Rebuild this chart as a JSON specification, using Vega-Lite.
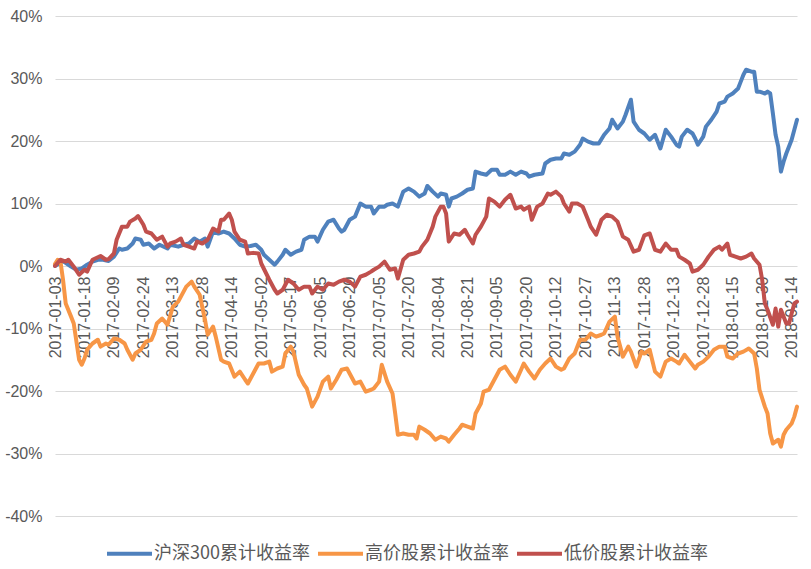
{
  "$schema": "https://vega.github.io/schema/vega-lite/v6.json",
  "width": 742,
  "height": 500,
  "autosize": {"type": "none"},
  "padding": {"left": 55, "top": 16, "right": 14, "bottom": 53},
  "background": "white",
  "config": {"view": {"stroke": null}, "font": "Liberation Sans"},
  "datasets": {
    "hs300": [
      {"date":"2017-01-03","v":0},{"date":"2017-01-06","v":0.8},{"date":"2017-01-11","v":-0.1},{"date":"2017-01-13","v":-0.6},{"date":"2017-01-17","v":-0.4},{"date":"2017-01-19","v":0.2},{"date":"2017-01-23","v":0.7},{"date":"2017-01-25","v":1.0},{"date":"2017-02-03","v":1.0},{"date":"2017-02-07","v":0.8},{"date":"2017-02-09","v":1.5},{"date":"2017-02-13","v":2.8},{"date":"2017-02-14","v":2.6},{"date":"2017-02-16","v":2.8},{"date":"2017-02-20","v":3.6},{"date":"2017-02-21","v":4.4},{"date":"2017-02-23","v":4.2},{"date":"2017-02-24","v":3.4},{"date":"2017-02-28","v":3.6},{"date":"2017-03-02","v":2.8},{"date":"2017-03-06","v":3.4},{"date":"2017-03-09","v":2.8},{"date":"2017-03-10","v":3.4},{"date":"2017-03-15","v":3.1},{"date":"2017-03-17","v":3.4},{"date":"2017-03-21","v":3.6},{"date":"2017-03-23","v":4.4},{"date":"2017-03-27","v":3.9},{"date":"2017-03-29","v":4.4},{"date":"2017-03-30","v":3.1},{"date":"2017-04-05","v":5.5},{"date":"2017-04-07","v":5.2},{"date":"2017-04-11","v":5.5},{"date":"2017-04-13","v":5.2},{"date":"2017-04-17","v":4.4},{"date":"2017-04-19","v":3.4},{"date":"2017-04-21","v":3.1},{"date":"2017-04-25","v":3.2},{"date":"2017-04-27","v":3.4},{"date":"2017-05-02","v":2.6},{"date":"2017-05-03","v":1.8},{"date":"2017-05-05","v":1.0},{"date":"2017-05-09","v":0.2},{"date":"2017-05-10","v":0.7},{"date":"2017-05-12","v":1.8},{"date":"2017-05-15","v":2.6},{"date":"2017-05-17","v":1.8},{"date":"2017-05-19","v":2.3},{"date":"2017-05-23","v":2.6},{"date":"2017-05-24","v":4.2},{"date":"2017-05-26","v":4.7},{"date":"2017-06-01","v":4.7},{"date":"2017-06-02","v":3.9},{"date":"2017-06-06","v":5.8},{"date":"2017-06-08","v":7.1},{"date":"2017-06-12","v":7.4},{"date":"2017-06-14","v":6.0},{"date":"2017-06-15","v":5.5},{"date":"2017-06-16","v":5.8},{"date":"2017-06-20","v":7.4},{"date":"2017-06-22","v":7.9},{"date":"2017-06-26","v":10.0},{"date":"2017-06-28","v":9.5},{"date":"2017-06-30","v":9.5},{"date":"2017-07-03","v":8.4},{"date":"2017-07-05","v":9.5},{"date":"2017-07-07","v":9.5},{"date":"2017-07-10","v":9.8},{"date":"2017-07-12","v":10.0},{"date":"2017-07-14","v":9.5},{"date":"2017-07-18","v":11.9},{"date":"2017-07-20","v":12.4},{"date":"2017-07-24","v":11.9},{"date":"2017-07-26","v":11.1},{"date":"2017-07-28","v":11.6},{"date":"2017-07-31","v":12.8},{"date":"2017-08-02","v":11.9},{"date":"2017-08-04","v":11.1},{"date":"2017-08-07","v":11.6},{"date":"2017-08-09","v":11.4},{"date":"2017-08-10","v":9.5},{"date":"2017-08-11","v":10.8},{"date":"2017-08-15","v":11.1},{"date":"2017-08-17","v":11.6},{"date":"2017-08-21","v":12.2},{"date":"2017-08-23","v":12.4},{"date":"2017-08-24","v":15.1},{"date":"2017-08-28","v":14.8},{"date":"2017-08-30","v":14.6},{"date":"2017-09-01","v":15.4},{"date":"2017-09-05","v":15.4},{"date":"2017-09-06","v":14.6},{"date":"2017-09-08","v":14.6},{"date":"2017-09-12","v":15.1},{"date":"2017-09-14","v":14.6},{"date":"2017-09-18","v":15.1},{"date":"2017-09-20","v":14.8},{"date":"2017-09-21","v":14.3},{"date":"2017-09-25","v":14.6},{"date":"2017-09-28","v":14.8},{"date":"2017-09-29","v":16.4},{"date":"2017-10-10","v":17.0},{"date":"2017-10-12","v":17.2},{"date":"2017-10-16","v":17.2},{"date":"2017-10-17","v":18.0},{"date":"2017-10-19","v":17.8},{"date":"2017-10-23","v":18.3},{"date":"2017-10-25","v":19.4},{"date":"2017-10-26","v":20.4},{"date":"2017-10-30","v":19.9},{"date":"2017-11-01","v":19.6},{"date":"2017-11-03","v":19.6},{"date":"2017-11-07","v":21.0},{"date":"2017-11-09","v":22.0},{"date":"2017-11-10","v":23.4},{"date":"2017-11-14","v":22.0},{"date":"2017-11-16","v":23.1},{"date":"2017-11-17","v":24.2},{"date":"2017-11-21","v":26.6},{"date":"2017-11-22","v":23.1},{"date":"2017-11-24","v":21.8},{"date":"2017-11-28","v":21.2},{"date":"2017-11-30","v":20.2},{"date":"2017-12-04","v":21.0},{"date":"2017-12-06","v":18.8},{"date":"2017-12-08","v":21.8},{"date":"2017-12-12","v":20.7},{"date":"2017-12-14","v":19.4},{"date":"2017-12-15","v":19.1},{"date":"2017-12-18","v":20.7},{"date":"2017-12-20","v":21.8},{"date":"2017-12-22","v":21.2},{"date":"2017-12-25","v":20.4},{"date":"2017-12-26","v":19.4},{"date":"2017-12-28","v":20.7},{"date":"2017-12-29","v":22.3},{"date":"2018-01-03","v":23.4},{"date":"2018-01-05","v":24.7},{"date":"2018-01-08","v":26.0},{"date":"2018-01-10","v":26.3},{"date":"2018-01-11","v":27.1},{"date":"2018-01-15","v":27.6},{"date":"2018-01-17","v":28.4},{"date":"2018-01-18","v":29.5},{"date":"2018-01-19","v":30.6},{"date":"2018-01-22","v":31.4},{"date":"2018-01-24","v":31.1},{"date":"2018-01-25","v":31.1},{"date":"2018-01-26","v":27.9},{"date":"2018-01-29","v":27.9},{"date":"2018-01-31","v":27.6},{"date":"2018-02-01","v":27.9},{"date":"2018-02-02","v":27.6},{"date":"2018-02-05","v":24.4},{"date":"2018-02-06","v":21.0},{"date":"2018-02-07","v":19.1},{"date":"2018-02-08","v":15.1},{"date":"2018-02-09","v":16.7},{"date":"2018-02-12","v":18.0},{"date":"2018-02-14","v":20.2},{"date":"2018-02-22","v":21.8},{"date":"2018-02-23","v":23.4}
    ],
    "high": [
      {"date":"2017-01-03","v":0.3},{"date":"2017-01-04","v":1.0},{"date":"2017-01-05","v":0.8},{"date":"2017-01-06","v":-2.2},{"date":"2017-01-09","v":-6.0},{"date":"2017-01-11","v":-8.1},{"date":"2017-01-12","v":-9.2},{"date":"2017-01-16","v":-15.0},{"date":"2017-01-17","v":-15.8},{"date":"2017-01-18","v":-14.8},{"date":"2017-01-19","v":-13.4},{"date":"2017-01-23","v":-12.4},{"date":"2017-01-25","v":-11.8},{"date":"2017-01-26","v":-12.9},{"date":"2017-02-06","v":-12.4},{"date":"2017-02-07","v":-12.6},{"date":"2017-02-09","v":-11.6},{"date":"2017-02-13","v":-11.8},{"date":"2017-02-15","v":-12.4},{"date":"2017-02-16","v":-13.4},{"date":"2017-02-20","v":-15.0},{"date":"2017-02-21","v":-14.0},{"date":"2017-02-23","v":-13.4},{"date":"2017-02-27","v":-12.1},{"date":"2017-03-01","v":-11.8},{"date":"2017-03-02","v":-10.8},{"date":"2017-03-03","v":-9.2},{"date":"2017-03-07","v":-8.4},{"date":"2017-03-09","v":-9.4},{"date":"2017-03-13","v":-6.5},{"date":"2017-03-15","v":-5.7},{"date":"2017-03-20","v":-3.3},{"date":"2017-03-22","v":-2.5},{"date":"2017-03-23","v":-3.3},{"date":"2017-03-27","v":-4.6},{"date":"2017-03-29","v":-8.6},{"date":"2017-03-30","v":-11.0},{"date":"2017-04-05","v":-9.7},{"date":"2017-04-06","v":-11.3},{"date":"2017-04-10","v":-15.0},{"date":"2017-04-11","v":-15.3},{"date":"2017-04-13","v":-15.6},{"date":"2017-04-17","v":-17.7},{"date":"2017-04-19","v":-16.9},{"date":"2017-04-21","v":-18.2},{"date":"2017-04-24","v":-18.8},{"date":"2017-04-26","v":-17.2},{"date":"2017-04-28","v":-15.6},{"date":"2017-05-03","v":-15.6},{"date":"2017-05-05","v":-15.3},{"date":"2017-05-08","v":-16.9},{"date":"2017-05-10","v":-16.4},{"date":"2017-05-12","v":-16.1},{"date":"2017-05-15","v":-14.0},{"date":"2017-05-17","v":-12.9},{"date":"2017-05-18","v":-13.7},{"date":"2017-05-22","v":-17.4},{"date":"2017-05-24","v":-19.0},{"date":"2017-05-25","v":-19.6},{"date":"2017-05-31","v":-22.5},{"date":"2017-06-02","v":-20.9},{"date":"2017-06-06","v":-18.5},{"date":"2017-06-08","v":-17.7},{"date":"2017-06-09","v":-19.6},{"date":"2017-06-13","v":-18.2},{"date":"2017-06-15","v":-16.6},{"date":"2017-06-19","v":-16.4},{"date":"2017-06-20","v":-17.2},{"date":"2017-06-22","v":-18.8},{"date":"2017-06-26","v":-18.5},{"date":"2017-06-28","v":-20.1},{"date":"2017-06-30","v":-19.8},{"date":"2017-07-03","v":-19.6},{"date":"2017-07-05","v":-18.5},{"date":"2017-07-06","v":-15.8},{"date":"2017-07-10","v":-18.5},{"date":"2017-07-12","v":-20.4},{"date":"2017-07-13","v":-23.6},{"date":"2017-07-14","v":-27.0},{"date":"2017-07-18","v":-26.8},{"date":"2017-07-20","v":-27.0},{"date":"2017-07-24","v":-27.0},{"date":"2017-07-25","v":-27.6},{"date":"2017-07-26","v":-25.7},{"date":"2017-07-28","v":-26.2},{"date":"2017-08-01","v":-26.8},{"date":"2017-08-03","v":-27.8},{"date":"2017-08-07","v":-27.3},{"date":"2017-08-09","v":-27.6},{"date":"2017-08-10","v":-28.1},{"date":"2017-08-14","v":-27.0},{"date":"2017-08-16","v":-26.0},{"date":"2017-08-17","v":-25.4},{"date":"2017-08-21","v":-25.7},{"date":"2017-08-23","v":-26.0},{"date":"2017-08-24","v":-23.6},{"date":"2017-08-28","v":-22.0},{"date":"2017-08-29","v":-20.1},{"date":"2017-08-31","v":-19.8},{"date":"2017-09-04","v":-18.2},{"date":"2017-09-06","v":-16.6},{"date":"2017-09-08","v":-16.1},{"date":"2017-09-12","v":-17.4},{"date":"2017-09-14","v":-18.5},{"date":"2017-09-18","v":-16.6},{"date":"2017-09-19","v":-15.6},{"date":"2017-09-21","v":-16.9},{"date":"2017-09-25","v":-18.0},{"date":"2017-09-27","v":-16.6},{"date":"2017-09-29","v":-15.6},{"date":"2017-10-10","v":-14.8},{"date":"2017-10-12","v":-16.1},{"date":"2017-10-16","v":-16.6},{"date":"2017-10-17","v":-16.4},{"date":"2017-10-19","v":-14.8},{"date":"2017-10-23","v":-14.0},{"date":"2017-10-25","v":-11.8},{"date":"2017-10-27","v":-11.8},{"date":"2017-10-31","v":-10.8},{"date":"2017-11-02","v":-11.3},{"date":"2017-11-06","v":-11.0},{"date":"2017-11-07","v":-10.8},{"date":"2017-11-09","v":-8.9},{"date":"2017-11-13","v":-8.1},{"date":"2017-11-14","v":-11.3},{"date":"2017-11-16","v":-14.5},{"date":"2017-11-20","v":-12.9},{"date":"2017-11-21","v":-13.7},{"date":"2017-11-23","v":-16.1},{"date":"2017-11-27","v":-13.7},{"date":"2017-11-28","v":-14.0},{"date":"2017-11-30","v":-13.4},{"date":"2017-12-04","v":-16.9},{"date":"2017-12-06","v":-17.7},{"date":"2017-12-08","v":-15.3},{"date":"2017-12-12","v":-14.8},{"date":"2017-12-14","v":-15.3},{"date":"2017-12-15","v":-15.6},{"date":"2017-12-19","v":-14.2},{"date":"2017-12-21","v":-15.3},{"date":"2017-12-25","v":-16.4},{"date":"2017-12-26","v":-15.8},{"date":"2017-12-28","v":-15.3},{"date":"2018-01-02","v":-14.5},{"date":"2018-01-04","v":-13.4},{"date":"2018-01-08","v":-12.9},{"date":"2018-01-10","v":-12.9},{"date":"2018-01-11","v":-14.5},{"date":"2018-01-15","v":-14.8},{"date":"2018-01-17","v":-14.0},{"date":"2018-01-19","v":-13.7},{"date":"2018-01-23","v":-13.2},{"date":"2018-01-25","v":-14.0},{"date":"2018-01-26","v":-16.4},{"date":"2018-01-29","v":-19.8},{"date":"2018-01-31","v":-22.5},{"date":"2018-02-01","v":-23.6},{"date":"2018-02-02","v":-26.8},{"date":"2018-02-05","v":-28.4},{"date":"2018-02-07","v":-27.8},{"date":"2018-02-08","v":-28.9},{"date":"2018-02-09","v":-27.0},{"date":"2018-02-12","v":-26.2},{"date":"2018-02-14","v":-25.2},{"date":"2018-02-22","v":-24.1},{"date":"2018-02-23","v":-22.5}
    ],
    "low": [
      {"date":"2017-01-03","v":0},{"date":"2017-01-05","v":1.0},{"date":"2017-01-09","v":0.7},{"date":"2017-01-10","v":1.0},{"date":"2017-01-12","v":-0.1},{"date":"2017-01-16","v":-1.4},{"date":"2017-01-18","v":-0.6},{"date":"2017-01-19","v":-0.9},{"date":"2017-01-23","v":1.0},{"date":"2017-01-26","v":1.6},{"date":"2017-02-06","v":1.0},{"date":"2017-02-07","v":1.1},{"date":"2017-02-09","v":2.0},{"date":"2017-02-10","v":4.2},{"date":"2017-02-14","v":6.3},{"date":"2017-02-16","v":6.3},{"date":"2017-02-17","v":7.1},{"date":"2017-02-21","v":7.6},{"date":"2017-02-22","v":8.0},{"date":"2017-02-24","v":6.6},{"date":"2017-02-27","v":5.5},{"date":"2017-03-01","v":5.2},{"date":"2017-03-03","v":4.2},{"date":"2017-03-07","v":4.7},{"date":"2017-03-09","v":3.1},{"date":"2017-03-10","v":3.6},{"date":"2017-03-14","v":3.9},{"date":"2017-03-16","v":4.4},{"date":"2017-03-17","v":3.4},{"date":"2017-03-21","v":3.1},{"date":"2017-03-23","v":2.8},{"date":"2017-03-24","v":3.9},{"date":"2017-03-28","v":3.6},{"date":"2017-03-30","v":4.2},{"date":"2017-04-05","v":6.0},{"date":"2017-04-07","v":5.5},{"date":"2017-04-10","v":7.4},{"date":"2017-04-11","v":7.4},{"date":"2017-04-13","v":8.4},{"date":"2017-04-14","v":7.4},{"date":"2017-04-17","v":5.5},{"date":"2017-04-19","v":4.2},{"date":"2017-04-21","v":3.9},{"date":"2017-04-24","v":2.0},{"date":"2017-04-26","v":2.1},{"date":"2017-04-28","v":2.0},{"date":"2017-05-02","v":0.4},{"date":"2017-05-05","v":-2.2},{"date":"2017-05-09","v":-3.8},{"date":"2017-05-10","v":-4.4},{"date":"2017-05-12","v":-3.8},{"date":"2017-05-16","v":-2.2},{"date":"2017-05-18","v":-2.8},{"date":"2017-05-22","v":-3.8},{"date":"2017-05-24","v":-3.3},{"date":"2017-05-26","v":-3.3},{"date":"2017-05-31","v":-4.4},{"date":"2017-06-02","v":-3.3},{"date":"2017-06-06","v":-3.8},{"date":"2017-06-08","v":-2.8},{"date":"2017-06-12","v":-3.0},{"date":"2017-06-14","v":-2.5},{"date":"2017-06-16","v":-2.2},{"date":"2017-06-20","v":-2.5},{"date":"2017-06-22","v":-3.3},{"date":"2017-06-26","v":-1.7},{"date":"2017-06-28","v":-1.4},{"date":"2017-06-30","v":-0.9},{"date":"2017-07-03","v":-0.6},{"date":"2017-07-05","v":-0.1},{"date":"2017-07-07","v":0.7},{"date":"2017-07-11","v":-0.6},{"date":"2017-07-13","v":-0.4},{"date":"2017-07-14","v":-2.0},{"date":"2017-07-18","v":1.0},{"date":"2017-07-20","v":1.8},{"date":"2017-07-24","v":2.0},{"date":"2017-07-26","v":2.3},{"date":"2017-07-27","v":3.1},{"date":"2017-07-31","v":4.2},{"date":"2017-08-02","v":6.3},{"date":"2017-08-03","v":7.9},{"date":"2017-08-07","v":9.5},{"date":"2017-08-08","v":9.5},{"date":"2017-08-09","v":8.4},{"date":"2017-08-10","v":3.9},{"date":"2017-08-14","v":5.2},{"date":"2017-08-16","v":5.0},{"date":"2017-08-18","v":5.8},{"date":"2017-08-21","v":5.0},{"date":"2017-08-23","v":3.6},{"date":"2017-08-24","v":5.0},{"date":"2017-08-28","v":6.3},{"date":"2017-08-30","v":7.9},{"date":"2017-08-31","v":10.8},{"date":"2017-09-04","v":10.3},{"date":"2017-09-06","v":9.5},{"date":"2017-09-08","v":10.6},{"date":"2017-09-12","v":11.4},{"date":"2017-09-14","v":9.2},{"date":"2017-09-18","v":9.5},{"date":"2017-09-19","v":9.0},{"date":"2017-09-21","v":9.5},{"date":"2017-09-22","v":7.4},{"date":"2017-09-26","v":9.5},{"date":"2017-09-28","v":10.0},{"date":"2017-10-09","v":11.6},{"date":"2017-10-10","v":11.4},{"date":"2017-10-12","v":11.9},{"date":"2017-10-16","v":11.1},{"date":"2017-10-17","v":10.0},{"date":"2017-10-19","v":8.7},{"date":"2017-10-20","v":10.0},{"date":"2017-10-24","v":10.0},{"date":"2017-10-26","v":9.5},{"date":"2017-10-30","v":7.4},{"date":"2017-10-31","v":6.3},{"date":"2017-11-02","v":5.0},{"date":"2017-11-06","v":7.4},{"date":"2017-11-08","v":8.2},{"date":"2017-11-10","v":7.9},{"date":"2017-11-14","v":7.1},{"date":"2017-11-16","v":4.7},{"date":"2017-11-20","v":4.2},{"date":"2017-11-22","v":2.3},{"date":"2017-11-24","v":2.6},{"date":"2017-11-28","v":4.9},{"date":"2017-11-30","v":5.2},{"date":"2017-12-04","v":2.6},{"date":"2017-12-06","v":2.3},{"date":"2017-12-08","v":3.6},{"date":"2017-12-12","v":2.6},{"date":"2017-12-14","v":2.6},{"date":"2017-12-15","v":1.5},{"date":"2017-12-19","v":1.0},{"date":"2017-12-21","v":0.4},{"date":"2017-12-22","v":-0.9},{"date":"2017-12-26","v":-0.6},{"date":"2017-12-28","v":0.2},{"date":"2018-01-02","v":1.5},{"date":"2018-01-04","v":2.6},{"date":"2018-01-08","v":3.1},{"date":"2018-01-09","v":2.6},{"date":"2018-01-11","v":3.6},{"date":"2018-01-12","v":1.8},{"date":"2018-01-16","v":1.5},{"date":"2018-01-18","v":1.2},{"date":"2018-01-22","v":1.5},{"date":"2018-01-24","v":2.0},{"date":"2018-01-25","v":1.2},{"date":"2018-01-29","v":0.2},{"date":"2018-01-30","v":-2.2},{"date":"2018-01-31","v":-6.0},{"date":"2018-02-01","v":-7.0},{"date":"2018-02-05","v":-9.4},{"date":"2018-02-06","v":-6.8},{"date":"2018-02-07","v":-9.7},{"date":"2018-02-08","v":-7.0},{"date":"2018-02-12","v":-9.2},{"date":"2018-02-13","v":-9.2},{"date":"2018-02-14","v":-7.6},{"date":"2018-02-22","v":-6.0},{"date":"2018-02-23","v":-5.7}
    ]
  },
  "encoding": {
    "x": {
      "field": "date",
      "type": "ordinal",
      "title": null,
      "scale": {
        "type": "point",
        "padding": 0,
        "domain": ["2017-01-03","2017-01-04","2017-01-05","2017-01-06","2017-01-09","2017-01-10","2017-01-11","2017-01-12","2017-01-13","2017-01-16","2017-01-17","2017-01-18","2017-01-19","2017-01-20","2017-01-23","2017-01-24","2017-01-25","2017-01-26","2017-02-03","2017-02-06","2017-02-07","2017-02-08","2017-02-09","2017-02-10","2017-02-13","2017-02-14","2017-02-15","2017-02-16","2017-02-17","2017-02-20","2017-02-21","2017-02-22","2017-02-23","2017-02-24","2017-02-27","2017-02-28","2017-03-01","2017-03-02","2017-03-03","2017-03-06","2017-03-07","2017-03-08","2017-03-09","2017-03-10","2017-03-13","2017-03-14","2017-03-15","2017-03-16","2017-03-17","2017-03-20","2017-03-21","2017-03-22","2017-03-23","2017-03-24","2017-03-27","2017-03-28","2017-03-29","2017-03-30","2017-03-31","2017-04-05","2017-04-06","2017-04-07","2017-04-10","2017-04-11","2017-04-12","2017-04-13","2017-04-14","2017-04-17","2017-04-18","2017-04-19","2017-04-20","2017-04-21","2017-04-24","2017-04-25","2017-04-26","2017-04-27","2017-04-28","2017-05-02","2017-05-03","2017-05-04","2017-05-05","2017-05-08","2017-05-09","2017-05-10","2017-05-11","2017-05-12","2017-05-15","2017-05-16","2017-05-17","2017-05-18","2017-05-19","2017-05-22","2017-05-23","2017-05-24","2017-05-25","2017-05-26","2017-05-31","2017-06-01","2017-06-02","2017-06-05","2017-06-06","2017-06-07","2017-06-08","2017-06-09","2017-06-12","2017-06-13","2017-06-14","2017-06-15","2017-06-16","2017-06-19","2017-06-20","2017-06-21","2017-06-22","2017-06-23","2017-06-26","2017-06-27","2017-06-28","2017-06-29","2017-06-30","2017-07-03","2017-07-04","2017-07-05","2017-07-06","2017-07-07","2017-07-10","2017-07-11","2017-07-12","2017-07-13","2017-07-14","2017-07-17","2017-07-18","2017-07-19","2017-07-20","2017-07-21","2017-07-24","2017-07-25","2017-07-26","2017-07-27","2017-07-28","2017-07-31","2017-08-01","2017-08-02","2017-08-03","2017-08-04","2017-08-07","2017-08-08","2017-08-09","2017-08-10","2017-08-11","2017-08-14","2017-08-15","2017-08-16","2017-08-17","2017-08-18","2017-08-21","2017-08-22","2017-08-23","2017-08-24","2017-08-25","2017-08-28","2017-08-29","2017-08-30","2017-08-31","2017-09-01","2017-09-04","2017-09-05","2017-09-06","2017-09-07","2017-09-08","2017-09-11","2017-09-12","2017-09-13","2017-09-14","2017-09-15","2017-09-18","2017-09-19","2017-09-20","2017-09-21","2017-09-22","2017-09-25","2017-09-26","2017-09-27","2017-09-28","2017-09-29","2017-10-09","2017-10-10","2017-10-11","2017-10-12","2017-10-13","2017-10-16","2017-10-17","2017-10-18","2017-10-19","2017-10-20","2017-10-23","2017-10-24","2017-10-25","2017-10-26","2017-10-27","2017-10-30","2017-10-31","2017-11-01","2017-11-02","2017-11-03","2017-11-06","2017-11-07","2017-11-08","2017-11-09","2017-11-10","2017-11-13","2017-11-14","2017-11-15","2017-11-16","2017-11-17","2017-11-20","2017-11-21","2017-11-22","2017-11-23","2017-11-24","2017-11-27","2017-11-28","2017-11-29","2017-11-30","2017-12-01","2017-12-04","2017-12-05","2017-12-06","2017-12-07","2017-12-08","2017-12-11","2017-12-12","2017-12-13","2017-12-14","2017-12-15","2017-12-18","2017-12-19","2017-12-20","2017-12-21","2017-12-22","2017-12-25","2017-12-26","2017-12-27","2017-12-28","2017-12-29","2018-01-02","2018-01-03","2018-01-04","2018-01-05","2018-01-08","2018-01-09","2018-01-10","2018-01-11","2018-01-12","2018-01-15","2018-01-16","2018-01-17","2018-01-18","2018-01-19","2018-01-22","2018-01-23","2018-01-24","2018-01-25","2018-01-26","2018-01-29","2018-01-30","2018-01-31","2018-02-01","2018-02-02","2018-02-05","2018-02-06","2018-02-07","2018-02-08","2018-02-09","2018-02-12","2018-02-13","2018-02-14","2018-02-22","2018-02-23"]
      },
      "axis": {
        "values": ["2017-01-03","2017-01-18","2017-02-09","2017-02-24","2017-03-13","2017-03-28","2017-04-14","2017-05-02","2017-05-17","2017-06-05","2017-06-20","2017-07-05","2017-07-20","2017-08-04","2017-08-21","2017-09-05","2017-09-20","2017-10-12","2017-10-27","2017-11-13","2017-11-28","2017-12-13","2017-12-28","2018-01-15","2018-01-30","2018-02-14"],
        "labelAngle": -90,
        "labelFontSize": 16,
        "labelFont": "Liberation Sans",
        "labelColor": "#595959",
        "ticks": false,
        "domain": false,
        "grid": false,
        "labelPadding": 10,
        "offset": -250,
        "labelOverlap": false
      }
    },
    "y": {
      "field": "v",
      "type": "quantitative",
      "title": null,
      "scale": {"domain": [-40, 40], "nice": false},
      "axis": {
        "values": [-40, -30, -20, -10, 0, 10, 20, 30, 40],
        "labelExpr": "datum.value + '%'",
        "grid": true,
        "gridColor": "#d9d9d9",
        "gridWidth": 1,
        "domain": false,
        "ticks": false,
        "labelPadding": 13,
        "labelFontSize": 16,
        "labelFont": "Liberation Sans",
        "labelColor": "#595959"
      }
    }
  },
  "layer": [
    {
      "data": {"name": "hs300"},
      "mark": {"type": "line", "strokeWidth": 4, "strokeJoin": "round", "strokeCap": "round"},
      "encoding": {
        "color": {
          "datum": "沪深300累计收益率",
          "type": "nominal",
          "scale": {
            "domain": ["沪深300累计收益率", "高价股累计收益率", "低价股累计收益率"],
            "range": ["#4F81BD", "#F79646", "#C0504D"]
          },
          "legend": {
            "orient": "none",
            "legendX": 50,
            "legendY": 513,
            "direction": "horizontal",
            "title": null,
            "symbolType": "stroke",
            "symbolSize": 2025,
            "symbolStrokeWidth": 4,
            "labelFontSize": 18,
            "labelFont": "Noto Sans CJK SC",
            "labelColor": "#595959",
            "labelOffset": 0,
            "columnPadding": 0
          }
        }
      }
    },
    {
      "data": {"name": "high"},
      "mark": {"type": "line", "strokeWidth": 4, "strokeJoin": "round", "strokeCap": "round"},
      "encoding": {"color": {"datum": "高价股累计收益率", "type": "nominal"}}
    },
    {
      "data": {"name": "low"},
      "mark": {"type": "line", "strokeWidth": 4, "strokeJoin": "round", "strokeCap": "round"},
      "encoding": {"color": {"datum": "低价股累计收益率", "type": "nominal"}}
    }
  ]
}
